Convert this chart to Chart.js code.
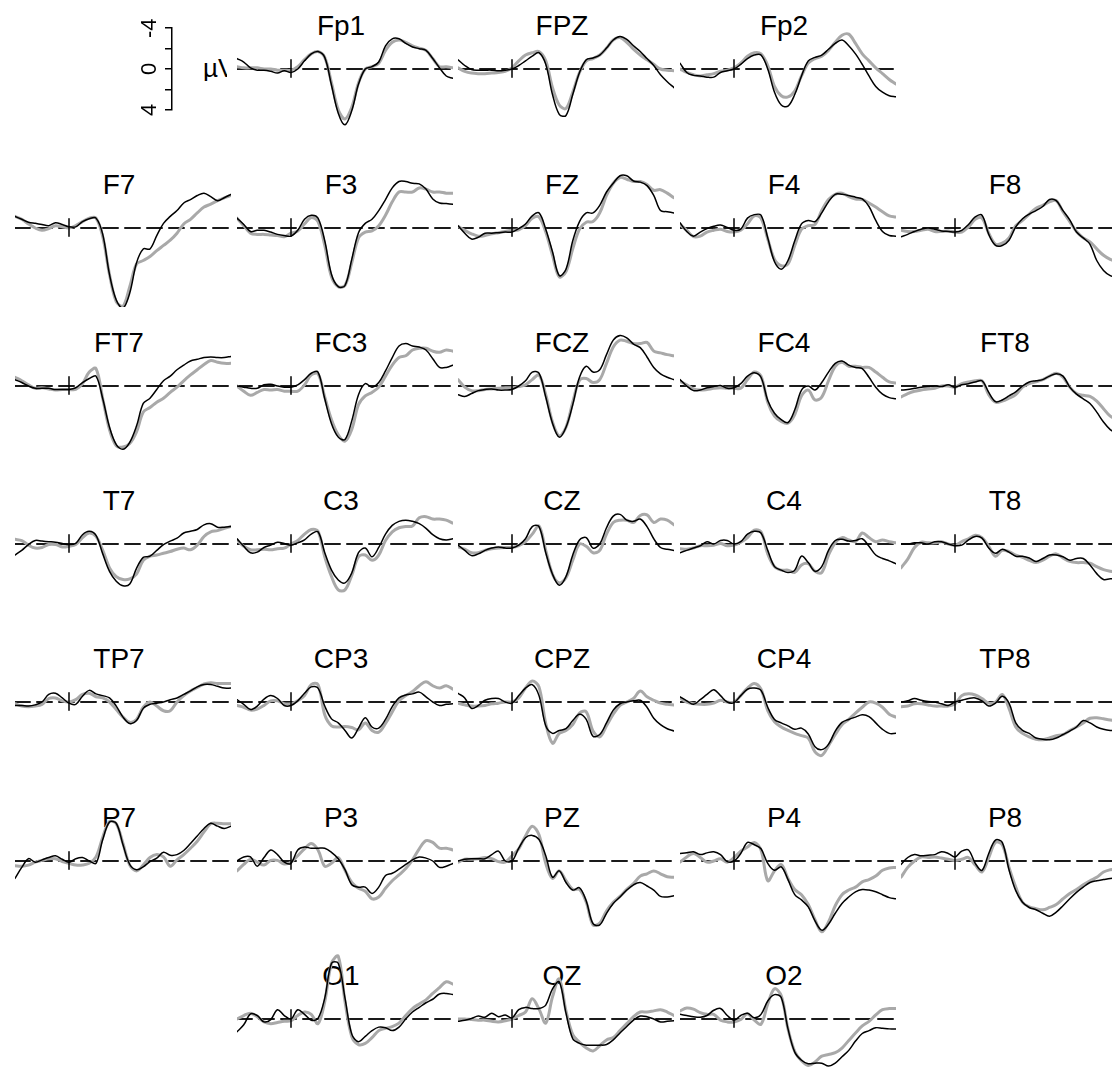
<!DOCTYPE html>
<html>
<head>
<meta charset="utf-8">
<script src="https://cdn.jsdelivr.net/npm/chart.js@4.4.1/dist/chart.umd.min.js"></script>
<style>
  html, body { margin: 0; padding: 0; background: #fff; overflow: hidden; }
  #board { position: relative; width: 1112px; height: 1068px; overflow: hidden; background: #fff; }
  #board canvas { position: absolute; }
  .ttl { position: absolute; width: 120px; text-align: center; font: 28px "Liberation Sans", Arial, sans-serif; line-height: 28px; color: #000; white-space: nowrap; }
  #unit { position: absolute; left: 203px; top: 55px; width: 24px; overflow: hidden; white-space: nowrap; font: 26px "Liberation Sans", Arial, sans-serif; line-height: 26px; color: #000; }
</style>
</head>
<body>
<div id="board"><div id="unit">µV</div></div>
<script>
// time points (ms), one value per point in every series below
const times = [-200,-175,-150,-125,-100,-75,-50,-25,0,25,50,75,100,125,150,175,200,225,250,275,300,325,350,375,400,425,450,475,500,525,550,575,600];

// µV, black = condition 1, gray = condition 2
const Fp1_c1 = [-0.9,-0.6,-0.1,0.1,0.1,0.2,0.35,0.15,0.3,0.0,-0.7,-1.3,-1.5,-1.0,1.4,3.8,4.8,3.6,1.3,0.0,-0.2,-0.6,-2.0,-2.6,-2.6,-2.2,-1.9,-1.75,-1.6,-0.9,-0.1,0.6,0.8];
const Fp1_c2 = [-0.2,-0.1,-0.1,-0.1,0.0,0.0,0.1,0.1,0.1,-0.2,-0.8,-1.3,-1.5,-1.0,1.2,3.5,4.3,3.3,1.2,0.0,-0.2,-0.5,-1.6,-2.3,-2.5,-2.3,-2.0,-1.8,-1.6,-0.9,-0.2,-0.2,-0.1];
const FPZ_c1 = [-0.8,-0.3,0.05,0.1,0.1,0.1,0.15,0.1,0.0,-0.3,-0.7,-1.1,-1.4,-0.4,2.2,3.9,4.0,2.2,0.3,-0.8,-0.95,-1.2,-1.8,-2.5,-2.8,-2.55,-2.0,-1.5,-0.9,-0.3,0.5,1.1,1.6];
const FPZ_c2 = [-0.1,0.2,0.35,0.4,0.4,0.35,0.3,0.2,-0.1,-0.7,-1.2,-1.4,-1.5,-0.7,1.6,3.1,3.4,2.0,0.3,-0.7,-0.9,-1.2,-1.8,-2.5,-2.7,-2.3,-1.7,-1.2,-0.8,-0.4,0.0,0.1,0.15];
const Fp2_c1 = [-0.5,0.3,0.55,0.6,0.7,0.7,0.3,0.15,0.0,-0.4,-0.9,-1.2,-1.2,0.0,2.0,3.1,3.2,2.2,0.6,-0.7,-1.0,-1.2,-1.7,-2.2,-2.5,-2.0,-1.3,-0.4,0.6,1.5,2.0,2.3,2.4];
const Fp2_c2 = [0.0,0.3,0.5,0.6,0.5,0.4,0.2,0.1,-0.1,-0.5,-1.1,-1.4,-1.3,-0.3,1.5,2.3,2.4,1.9,0.6,-0.5,-0.9,-1.1,-1.6,-2.3,-2.9,-3.0,-2.2,-1.3,-0.7,-0.1,0.4,0.9,1.3];

const F7_c1 = [-1.0,-0.75,-0.5,-0.4,-0.3,-0.2,-0.45,-0.3,-0.1,-0.1,-0.55,-0.8,-0.85,0.55,4.0,6.2,6.9,5.6,3.0,1.8,1.8,0.65,-0.4,-1.0,-1.5,-2.15,-2.45,-2.8,-3.0,-2.7,-2.35,-2.6,-2.9];
const F7_c2 = [-1.0,-0.75,-0.35,0.0,0.2,0.05,-0.2,-0.1,0.0,-0.2,-0.55,-0.85,-0.85,0.75,4.0,6.35,6.75,5.05,3.1,2.8,2.45,1.95,1.5,1.05,0.45,-0.35,-0.75,-1.3,-1.8,-2.05,-2.35,-2.6,-2.8];
const F3_c1 = [-0.85,-0.3,0.3,0.2,0.2,0.35,0.55,0.65,0.7,0.2,-0.75,-1.1,-0.85,1.1,4.0,5.05,4.95,2.7,0.4,-0.4,-0.75,-1.5,-2.45,-3.45,-4.0,-4.0,-3.85,-3.8,-3.35,-2.5,-2.15,-2.1,-2.05];
const F3_c2 = [-0.85,-0.2,0.45,0.55,0.55,0.6,0.65,0.75,0.45,0.25,-0.35,-0.9,-0.55,1.5,4.2,5.05,4.95,3.0,0.85,0.35,0.25,-0.2,-1.1,-2.25,-3.1,-3.1,-3.1,-3.45,-3.35,-3.1,-3.1,-3.0,-3.0];
const FZ_c1 = [-0.2,0.45,0.95,0.8,0.45,0.45,0.4,0.35,0.35,0.05,-0.35,-1.05,-1.3,0.1,2.05,4.1,3.55,1.1,-0.55,-1.3,-1.3,-1.95,-3.1,-3.85,-4.5,-4.5,-4.05,-3.95,-3.65,-2.8,-1.5,-1.4,-1.3];
const FZ_c2 = [-0.15,0.2,0.5,0.7,0.65,0.5,0.4,0.3,0.2,0.15,-0.2,-0.85,-0.95,0.35,2.35,4.2,3.75,1.8,0.1,-0.5,-0.55,-1.3,-2.8,-3.85,-4.35,-4.2,-4.0,-4.0,-3.75,-3.25,-3.3,-3.0,-2.6];
const F4_c1 = [-0.45,0.3,0.7,0.35,0.05,-0.15,-0.25,-0.05,0.2,0.1,-0.85,-1.15,-1.1,0.85,2.9,3.55,2.8,1.1,-0.35,-0.65,-0.55,-1.3,-2.25,-2.9,-2.9,-2.8,-2.65,-2.5,-1.85,-0.65,0.3,0.65,0.7];
const F4_c2 = [-0.3,0.2,0.75,0.7,0.35,0.2,0.1,0.3,0.35,0.2,-0.35,-1.05,-0.85,0.95,2.7,3.25,3.1,1.5,0.1,-0.2,-0.3,-1.5,-2.45,-2.9,-3.0,-2.7,-2.5,-2.45,-2.15,-1.8,-1.4,-1.05,-0.95];
const F8_c1 = [0.75,0.55,0.3,0.1,0.0,0.1,0.25,0.3,0.35,0.2,-0.3,-0.95,-1.1,0.55,1.5,1.5,1.05,-0.1,-0.8,-1.2,-1.5,-1.85,-2.45,-2.35,-1.5,-0.7,0.35,0.85,1.4,2.8,3.65,4.1,4.3];
const F8_c2 = [0.2,0.3,0.3,0.2,0.1,0.3,0.3,0.25,0.35,0.35,-0.1,-0.75,-0.85,0.45,1.4,1.3,0.85,-0.2,-0.65,-1.2,-1.7,-1.95,-2.25,-2.35,-1.4,-0.55,0.3,0.85,1.2,1.8,2.35,2.7,2.9];

const FT7_c1 = [-0.55,-0.3,0.0,0.2,0.2,0.2,0.3,0.3,0.3,0.15,-0.3,-0.65,-0.85,1.1,3.55,5.05,5.45,4.85,3.45,1.5,1.05,0.3,-0.45,-0.85,-1.4,-1.8,-2.15,-2.3,-2.45,-2.5,-2.45,-2.45,-2.55];
const FT7_c2 = [-0.75,-0.45,-0.1,0.2,0.15,0.25,0.35,0.3,0.3,0.3,-0.2,-1.2,-1.5,1.1,3.75,5.15,5.25,4.95,3.95,2.25,1.85,1.4,1.05,0.55,0.1,-0.45,-0.95,-1.4,-1.85,-2.2,-2.05,-1.95,-1.95];
const FC3_c1 = [0.0,0.1,0.2,0.2,-0.1,-0.15,0.0,0.1,0.1,-0.1,-0.55,-1.1,-1.2,1.1,3.25,4.4,4.6,3.0,0.75,-0.2,0.1,-0.3,-1.3,-2.45,-3.45,-3.65,-3.45,-3.35,-3.1,-2.35,-1.6,-1.6,-1.8];
const FC3_c2 = [0.0,0.45,0.8,0.55,0.3,0.35,0.3,0.45,0.45,0.45,-0.1,-0.95,-1.05,0.95,2.9,4.2,4.75,3.75,1.6,0.85,0.55,0.1,-0.85,-1.8,-2.45,-2.6,-3.1,-3.25,-3.25,-3.0,-2.9,-3.1,-3.0];
const FCZ_c1 = [0.75,0.9,0.65,0.4,0.3,0.25,0.35,0.35,0.3,0.0,-0.45,-1.2,-1.1,0.95,3.2,4.4,3.55,1.6,-0.75,-1.7,-1.2,-1.4,-2.7,-3.95,-4.35,-4.15,-3.6,-3.3,-2.5,-1.6,-1.05,-0.75,-0.55];
const FCZ_c2 = [-0.55,0.1,0.4,0.4,0.3,0.25,0.2,0.15,0.15,0.05,-0.1,-0.55,-0.95,0.75,3.1,4.3,3.55,1.4,-0.5,-0.65,-0.3,-0.55,-1.95,-3.35,-3.95,-3.85,-3.65,-3.65,-3.75,-3.0,-2.85,-2.7,-2.6];
const FC4_c1 = [-0.55,0.0,0.4,0.35,0.15,0.05,-0.05,0.2,0.15,-0.2,-0.85,-1.15,-0.75,1.25,2.35,2.9,3.15,2.05,0.35,0.0,0.35,-0.3,-1.2,-1.95,-2.15,-1.8,-1.6,-1.5,-0.75,0.1,0.7,1.0,1.1];
const FC4_c2 = [-0.4,-0.1,0.25,0.35,0.3,0.2,0.15,0.2,0.2,0.2,-0.55,-1.2,-0.85,1.4,2.6,3.05,3.2,2.45,0.85,0.35,1.2,0.95,-0.45,-1.7,-2.05,-1.7,-1.7,-1.6,-1.6,-1.2,-0.75,-0.35,-0.25];
const FT8_c1 = [0.35,0.3,0.2,0.1,0.05,0.0,0.05,-0.1,0.1,-0.1,-0.2,-0.35,-0.45,0.55,1.35,1.2,0.85,0.5,0.0,-0.35,-0.45,-0.55,-0.85,-1.05,-0.85,0.1,0.7,1.1,1.5,2.25,3.1,3.75,4.1];
const FT8_c2 = [0.95,0.65,0.45,0.35,0.25,0.2,0.0,0.0,0.1,-0.2,-0.35,-0.45,-0.45,0.75,1.4,1.3,1.05,0.75,0.1,-0.2,-0.35,-0.55,-0.85,-1.1,-0.75,0.1,0.65,0.8,0.9,1.3,1.95,2.6,2.9];

const T7_c1 = [0.95,0.55,0.05,-0.3,-0.25,-0.2,-0.15,-0.05,0.05,-0.05,-0.8,-1.1,-0.75,0.85,2.35,3.2,3.6,3.45,2.1,1.15,1.05,0.55,0.05,-0.25,-0.5,-0.95,-1.1,-1.25,-1.65,-1.75,-1.45,-1.45,-1.5];
const T7_c2 = [-0.4,-0.3,0.1,0.35,0.3,0.05,0.05,0.25,0.2,0.05,-0.55,-0.95,-0.65,0.55,2.05,2.8,3.05,3.0,2.6,1.4,1.05,0.95,0.8,0.65,0.45,0.35,0.5,0.1,-0.65,-1.05,-1.15,-1.35,-1.5];
const C3_c1 = [-0.45,0.2,0.75,0.7,0.3,0.1,-0.15,-0.05,0.1,-0.1,-0.35,-0.85,-1.05,0.75,2.25,3.1,3.35,2.5,0.75,0.35,1.1,0.3,-0.85,-1.6,-1.95,-2.05,-1.95,-1.75,-1.35,-0.8,-0.45,-0.35,-0.45];
const C3_c2 = [-0.35,0.2,0.5,0.5,0.45,0.5,0.4,0.35,0.0,-0.3,-0.85,-1.25,-1.1,1.1,2.8,3.95,3.95,2.7,1.1,0.95,1.4,0.95,-0.3,-1.05,-1.4,-1.5,-1.55,-2.25,-2.35,-2.15,-2.15,-2.05,-1.8];
const CZ_c1 = [0.1,0.55,1.0,0.85,0.55,0.35,0.25,0.35,0.35,0.1,-0.45,-1.5,-1.5,0.75,2.6,3.55,2.8,0.95,-0.35,-0.55,0.35,0.0,-1.4,-2.4,-2.55,-2.05,-1.95,-2.15,-1.5,-0.45,0.3,0.45,0.55];
const CZ_c2 = [0.25,0.45,0.75,0.75,0.55,0.4,0.35,0.3,0.3,0.15,-0.2,-0.85,-1.55,0.55,2.6,3.35,2.9,1.4,0.0,0.2,0.75,0.55,-0.85,-1.85,-2.05,-2.05,-1.85,-2.45,-2.5,-1.85,-2.15,-2.05,-1.65];
const C4_c1 = [0.75,0.55,0.35,0.15,-0.2,0.0,-0.3,-0.3,0.0,-0.2,-0.85,-1.1,-0.95,0.55,1.95,2.25,2.45,2.25,1.05,1.6,2.35,1.95,0.55,-0.3,-0.4,-0.25,-0.3,-0.45,0.2,0.95,1.25,1.45,1.7];
const C4_c2 = [0.4,0.45,0.35,0.15,0.15,0.1,-0.05,0.15,0.1,-0.15,-0.55,-1.2,-1.05,0.85,1.95,2.25,2.25,2.45,1.8,1.7,2.35,2.45,0.95,-0.1,-0.55,-0.35,-0.2,-0.95,-0.55,-0.2,-0.35,-0.2,-0.1];
const T8_c1 = [0.0,0.0,-0.1,-0.1,0.0,-0.2,-0.2,0.0,0.15,0.1,-0.35,-0.65,-0.5,0.35,0.8,0.45,0.7,1.05,1.05,1.2,1.5,1.25,0.95,0.95,1.1,1.4,1.25,1.25,1.8,2.55,3.05,3.0,3.0];
const T8_c2 = [2.05,1.3,0.3,-0.15,-0.1,-0.1,-0.2,0.0,0.1,-0.2,-0.45,-0.75,-0.55,0.2,1.05,0.55,0.65,0.95,1.15,1.4,1.6,1.4,1.05,0.85,1.2,1.5,1.6,1.6,1.65,1.95,2.2,2.35,2.45];

const TP7_c1 = [0.3,0.3,0.35,0.25,0.0,-0.65,-0.75,-0.35,0.1,0.2,-0.5,-1.0,-0.7,-0.55,-0.35,0.35,1.3,1.85,1.6,0.55,0.2,0.1,0.0,-0.2,-0.35,-0.65,-0.95,-1.3,-1.5,-1.5,-1.35,-1.2,-1.2];
const TP7_c2 = [0.15,0.35,0.4,0.35,0.2,-0.3,-0.35,-0.1,0.0,-0.2,-0.65,-0.75,-0.45,-0.35,0.0,0.65,1.3,1.75,1.5,0.45,0.0,0.35,0.75,0.75,0.0,-0.55,-0.95,-1.25,-1.55,-1.65,-1.6,-1.6,-1.6];
const CP3_c1 = [-0.2,0.2,0.65,0.35,-0.25,-0.55,-0.3,0.3,0.3,-0.1,-0.75,-1.3,-1.2,0.35,1.45,1.8,2.45,3.1,2.25,1.35,2.15,2.25,1.5,0.4,-0.35,-0.6,-0.7,-0.85,-0.45,0.0,0.3,0.2,0.15];
const CP3_c2 = [0.3,0.45,0.7,0.6,0.3,-0.1,-0.1,0.15,0.15,-0.1,-0.55,-1.5,-1.5,1.1,2.05,2.15,2.1,2.2,2.4,1.8,2.45,2.6,1.85,0.85,-0.1,-0.55,-0.9,-1.4,-1.75,-1.4,-1.2,-1.4,-1.1];
const CPZ_c1 = [-0.75,-0.35,0.55,0.3,-0.15,-0.3,-0.3,0.0,0.1,-0.55,-1.2,-1.5,-0.55,2.05,2.7,2.45,2.3,1.6,1.05,1.5,2.95,2.8,1.8,0.7,0.15,0.0,-0.1,-0.15,0.45,1.4,1.95,2.3,2.5];
const CPZ_c2 = [0.1,0.25,0.35,0.35,0.3,0.15,0.1,0.0,0.0,-0.35,-1.2,-1.8,-1.3,1.85,3.55,2.7,2.45,1.95,0.95,0.85,2.5,3.0,2.05,1.05,0.3,0.0,-0.3,-0.95,-0.45,-0.15,0.1,0.2,0.25];
const CP4_c1 = [-0.45,-0.1,0.2,-0.2,-0.65,-1.05,-0.55,0.0,0.05,-0.55,-1.1,-1.2,-1.0,0.45,1.5,1.8,2.05,2.35,2.25,2.75,3.85,4.1,3.65,2.5,1.75,1.5,1.3,1.1,1.25,1.8,2.35,2.7,2.7];
const CP4_c2 = [-0.35,0.0,0.15,0.2,0.2,0.1,-0.15,0.0,0.0,-0.55,-1.2,-1.6,-1.1,0.75,1.7,2.15,2.45,2.7,2.9,3.1,4.3,4.6,3.75,2.8,1.95,1.5,0.95,0.45,0.0,0.1,0.45,1.05,1.3];
const TP8_c1 = [0.0,-0.1,-0.3,-0.15,-0.05,0.0,0.15,0.3,0.0,-0.15,-0.3,-0.35,-0.1,0.35,0.1,-0.5,0.1,1.8,2.45,2.7,3.1,3.2,3.25,3.1,2.8,2.5,2.15,1.6,1.8,2.15,2.35,2.45,2.45];
const TP8_c2 = [0.4,0.35,0.15,0.15,0.25,0.35,0.35,0.35,0.15,-0.55,-0.7,-0.6,-0.3,0.1,0.0,-0.65,0.55,2.15,2.7,3.0,3.2,3.25,3.1,2.9,2.8,2.45,2.15,1.8,1.4,1.35,1.45,1.55,1.6];

const P7_c1 = [1.5,0.55,-0.2,0.1,-0.1,-0.3,-0.45,-0.15,0.1,-0.2,-0.3,0.0,0.2,-1.85,-3.35,-3.25,-1.4,0.3,0.75,0.5,0.05,-0.25,-0.75,-0.5,-0.55,-0.9,-1.5,-2.15,-2.8,-3.25,-3.0,-2.8,-3.0];
const P7_c2 = [0.4,0.45,0.35,0.1,-0.05,-0.2,-0.2,0.05,0.2,0.35,0.35,0.2,-0.35,-2.05,-3.4,-3.2,-1.5,0.35,0.85,0.35,-0.3,-0.55,-0.35,0.45,-0.1,-0.55,-1.1,-1.7,-2.5,-3.2,-3.25,-3.2,-3.2];
const P3_c1 = [0.0,-0.35,-0.35,0.45,-0.3,-0.95,-0.55,0.1,0.2,-0.95,-1.2,-1.1,-1.1,-1.1,-0.75,-0.2,0.75,2.05,2.25,2.25,2.8,2.25,1.25,1.05,0.7,0.3,-0.1,-0.35,-0.25,0.0,0.55,0.45,0.2];
const P3_c2 = [0.85,0.3,-0.15,0.1,0.35,-0.05,-0.05,0.25,0.1,-0.45,-1.05,-1.5,-0.95,0.45,0.2,-0.3,0.8,1.85,2.35,2.6,3.25,3.1,2.35,1.7,1.2,0.65,-0.1,-1.05,-1.75,-1.6,-1.1,-1.1,-0.95];
const PZ_c1 = [0.0,-0.15,-0.2,-0.2,-0.2,-0.55,-0.85,0.0,0.0,-1.1,-2.0,-2.2,-1.85,-0.45,1.4,0.85,1.85,2.5,2.3,3.45,5.4,5.5,4.5,3.65,3.1,2.5,2.05,1.85,2.15,2.5,3.05,3.1,3.0];
const PZ_c2 = [0.1,-0.15,-0.15,-0.2,-0.3,-0.2,0.05,0.1,-0.45,-1.05,-2.15,-3.0,-2.25,0.2,1.5,0.85,1.7,2.45,2.45,3.55,5.5,5.35,4.3,3.55,3.05,2.45,1.95,1.3,1.1,0.85,1.1,1.35,1.4];
const P4_c1 = [-0.65,-0.7,-0.8,-0.55,-0.7,-0.8,-0.55,0.05,0.0,-0.65,-1.6,-1.4,-1.05,0.2,0.8,0.5,1.6,2.9,3.35,3.95,5.15,5.95,5.45,4.5,3.65,3.1,2.65,2.45,2.5,2.65,2.9,3.15,3.25];
const P4_c2 = [0.1,-0.35,-0.65,-0.3,0.1,0.0,-0.2,0.1,-0.3,-0.85,-1.2,-1.6,-0.95,1.7,0.85,0.3,1.5,2.45,2.9,3.75,5.05,6.1,5.25,3.85,2.9,2.5,2.25,1.8,1.6,1.3,0.8,0.6,0.55];
const P8_c1 = [0.3,-0.3,-0.55,-0.45,-0.5,-0.55,-0.8,-0.65,-0.35,-0.85,-0.95,0.2,0.8,-0.65,-1.8,-1.6,0.75,2.55,3.55,4.0,4.2,4.5,4.75,4.4,3.85,3.25,2.7,2.25,1.85,1.7,1.6,1.5,1.5];
const P8_c2 = [1.4,0.55,0.0,-0.35,-0.3,-0.35,-0.25,-0.15,-0.05,-0.15,-0.3,0.35,0.95,-0.3,-1.6,-1.4,0.55,2.25,3.55,3.95,4.1,4.2,4.0,3.75,3.25,2.8,2.45,2.05,1.7,1.4,0.95,0.75,0.65];

const O1_c1 = [1.1,0.5,-0.45,-0.3,0.25,0.05,-0.8,-0.3,0.0,-0.8,-0.4,0.1,-0.05,-1.8,-4.8,-4.8,-1.8,1.3,1.95,1.5,1.0,0.7,0.75,1.0,0.7,0.0,-0.6,-1.0,-1.4,-1.7,-2.15,-2.2,-2.1];
const O1_c2 = [0.0,-0.3,-0.5,-0.2,0.25,0.4,0.3,0.2,0.15,-0.3,-0.6,-0.4,0.4,-1.5,-4.8,-5.4,-1.5,1.5,2.2,2.1,1.6,1.0,0.8,0.65,0.35,-0.3,-0.9,-1.3,-1.65,-2.2,-2.7,-3.2,-3.0];
const OZ_c1 = [0.2,0.1,-0.05,-0.25,-0.15,-0.5,-0.2,-0.35,-0.1,-0.8,-1.0,-0.9,-0.9,-1.2,-2.6,-3.2,-0.5,1.7,2.1,2.25,2.25,2.25,2.2,1.8,1.2,0.65,0.1,-0.25,-0.2,0.0,0.25,0.2,0.15];
const OZ_c2 = [0.0,0.0,0.05,0.1,0.1,0.2,0.25,0.15,0.0,-0.3,-0.6,-1.75,-0.85,0.35,-1.9,-3.45,-0.7,1.35,2.0,2.5,2.75,2.3,1.8,1.6,1.0,0.4,-0.2,-0.6,-0.6,-0.7,-0.8,-0.6,-0.3];
const O2_c1 = [-0.4,-0.3,-0.2,-0.15,-0.3,-0.75,-0.9,-0.3,0.1,-0.3,-0.5,-0.1,-0.4,-1.55,-2.1,-1.85,0.85,2.85,3.55,3.85,3.8,3.8,4.05,3.8,3.25,2.7,1.9,1.25,1.0,0.75,0.8,0.85,0.85];
const O2_c2 = [-0.7,-0.95,-0.85,-0.55,-0.4,-0.4,0.1,0.25,0.25,0.05,-0.45,0.1,0.45,-1.3,-2.6,-2.0,0.85,2.8,3.6,4.0,3.7,3.2,3.05,2.9,2.5,1.85,1.2,0.6,0.2,-0.35,-0.8,-0.9,-0.9];

// electrode montage, row by row
const channelGrid = [
  [null, 'Fp1', 'FPZ', 'Fp2', null],
  ['F7', 'F3', 'FZ', 'F4', 'F8'],
  ['FT7', 'FC3', 'FCZ', 'FC4', 'FT8'],
  ['T7', 'C3', 'CZ', 'C4', 'T8'],
  ['TP7', 'CP3', 'CPZ', 'CP4', 'TP8'],
  ['P7', 'P3', 'PZ', 'P4', 'P8'],
  [null, 'O1', 'OZ', 'O2', null]
];

const cond1 = {
  Fp1: Fp1_c1, FPZ: FPZ_c1, Fp2: Fp2_c1,
  F7: F7_c1, F3: F3_c1, FZ: FZ_c1, F4: F4_c1, F8: F8_c1,
  FT7: FT7_c1, FC3: FC3_c1, FCZ: FCZ_c1, FC4: FC4_c1, FT8: FT8_c1,
  T7: T7_c1, C3: C3_c1, CZ: CZ_c1, C4: C4_c1, T8: T8_c1,
  TP7: TP7_c1, CP3: CP3_c1, CPZ: CPZ_c1, CP4: CP4_c1, TP8: TP8_c1,
  P7: P7_c1, P3: P3_c1, PZ: PZ_c1, P4: P4_c1, P8: P8_c1,
  O1: O1_c1, OZ: OZ_c1, O2: O2_c1
};
const cond2 = {
  Fp1: Fp1_c2, FPZ: FPZ_c2, Fp2: Fp2_c2,
  F7: F7_c2, F3: F3_c2, FZ: FZ_c2, F4: F4_c2, F8: F8_c2,
  FT7: FT7_c2, FC3: FC3_c2, FCZ: FCZ_c2, FC4: FC4_c2, FT8: FT8_c2,
  T7: T7_c2, C3: C3_c2, CZ: CZ_c2, C4: C4_c2, T8: T8_c2,
  TP7: TP7_c2, CP3: CP3_c2, CPZ: CPZ_c2, CP4: CP4_c2, TP8: TP8_c2,
  P7: P7_c2, P3: P3_c2, PZ: PZ_c2, P4: P4_c2, P8: P8_c2,
  O1: O1_c2, OZ: OZ_c2, O2: O2_c2
};

// scale bar ticks
const scaleTicks = [-4, -2, 0, 2, 4];
const scaleLabels = ['-4', '', '0', '', '4'];

// page geometry
const colOnset = [69, 291, 512, 734, 955];   // x of stimulus onset per column
const rowZero = [69, 228, 386, 544, 702, 861, 1019]; // y of 0 µV per row
const PANEL_W = 216, PANEL_H = 158, Y_LIM = 6.8;
const FONT = '"Liberation Sans", Arial, Helvetica, sans-serif';

const board = document.getElementById('board');
const pts = vals => times.map((t, i) => ({ x: t, y: vals[i] }));

function addTitle(name, cx, zeroY) {
  const d = document.createElement('div');
  d.className = 'ttl';
  d.textContent = name;
  d.style.left = (cx - 60) + 'px';
  d.style.top = (zeroY - 57) + 'px';
  board.appendChild(d);
}

function addPanel(name, onsetX, zeroY) {
  const cv = document.createElement('canvas');
  cv.width = PANEL_W; cv.height = PANEL_H;
  cv.style.left = (onsetX - 54) + 'px';
  cv.style.top = (zeroY - PANEL_H / 2) + 'px';
  board.appendChild(cv);

  new Chart(cv.getContext('2d'), {
    type: 'line',
    data: {
      datasets: [
        { data: pts(cond1[name]), borderColor: '#000', borderWidth: 1.5, order: 0 },
        { data: pts(cond2[name]), borderColor: '#a9a9a9', borderWidth: 3, order: 1 },
        { data: [{ x: -200, y: 0 }, { x: 600, y: 0 }], borderColor: '#1a1a1a', borderWidth: 2, borderDash: [15, 7], tension: 0, order: 2 },
        { data: [{ x: 0, y: -0.8 }, { x: 0, y: 0.7 }], borderColor: '#000', borderWidth: 1.5, tension: 0, order: 0 }
      ]
    },
    options: {
      responsive: false,
      animation: false,
      devicePixelRatio: 1,
      events: [],
      layout: { padding: 0 },
      elements: {
        point: { radius: 0 },
        line: { tension: 0.35, borderJoinStyle: 'round', borderCapStyle: 'round' }
      },
      plugins: { legend: { display: false }, tooltip: { enabled: false }, title: { display: false } },
      scales: {
        x: { type: 'linear', min: -200, max: 600, display: false },
        y: { min: -Y_LIM, max: Y_LIM, reverse: true, display: false }
      }
    }
  });
}

channelGrid.forEach((row, r) => {
  row.forEach((name, c) => {
    if (!name) return;
    addTitle(name, colOnset[c] + 50, rowZero[r]);
  });
});
channelGrid.forEach((row, r) => {
  row.forEach((name, c) => {
    if (!name) return;
    addPanel(name, colOnset[c], rowZero[r]);
  });
});

// µV scale bar, top left
const sc = document.createElement('canvas');
sc.width = 74; sc.height = 118;
sc.style.left = '100px'; sc.style.top = '10px';
board.appendChild(sc);
new Chart(sc.getContext('2d'), {
  type: 'line',
  data: { datasets: [] },
  options: {
    responsive: false,
    animation: false,
    devicePixelRatio: 1,
    events: [],
    layout: { padding: { top: 12.6, bottom: 12.4, left: 0, right: 0 } },
    plugins: { legend: { display: false }, tooltip: { enabled: false } },
    scales: {
      x: { type: 'linear', min: 0, max: 1, display: false },
      y: {
        min: -4, max: 4, reverse: true,
        afterFit: s => { s.width = 72; },
        border: { display: true, color: '#000', width: 1.5 },
        grid: { display: true, drawOnChartArea: false, drawTicks: true, tickLength: 7, color: '#000', lineWidth: 1.5 },
        ticks: {
          stepSize: 2, autoSkip: false, minRotation: 90, maxRotation: 90,
          crossAlign: 'center', padding: 5, color: '#000',
          font: { family: FONT, size: 22 },
          callback: v => scaleLabels[scaleTicks.indexOf(v)]
        }
      }
    }
  }
});
</script>
</body>
</html>
